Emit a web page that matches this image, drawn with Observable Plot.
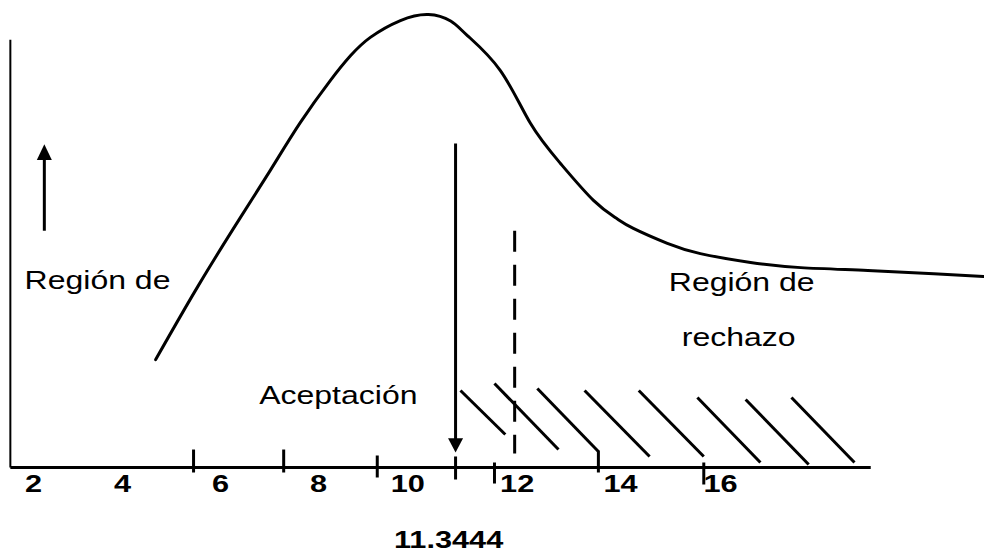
<!DOCTYPE html>
<html>
<head>
<meta charset="utf-8">
<script src="https://cdn.jsdelivr.net/npm/d3@7"></script>
<script src="https://cdn.jsdelivr.net/npm/@observablehq/plot@0.6"></script>
<style>
  html, body { margin: 0; padding: 0; background: #ffffff; }
  #chart svg { display: block; overflow: visible; }
</style>
</head>
<body>
<div id="chart"></div>
<script>
// ---- Data (in chart units: x = statistic value, y = relative density 0..100) ----
const curveX = [4.65, 5.52, 6.37, 7.00, 7.59, 8.20, 8.61, 9.01, 9.62, 10.19, 10.64, 10.98, 11.65, 12.26, 12.87, 13.54, 14.00, 14.35, 15.04, 15.71, 16.73, 17.75, 19.11, 20.45, 21.46];
const curveY = [23.1, 39.0, 53.5, 64.0, 73.9, 82.9, 88.2, 92.1, 95.7, 97.0, 95.6, 92.5, 85.0, 73.7, 65.1, 57.2, 53.4, 51.2, 48.0, 45.8, 43.9, 42.8, 42.2, 41.5, 40.9];

const tickX  = [5.42, 7.25, 9.15, 10.74, 11.53, 13.64, 15.78];
const tickY1 = [3.85, 3.85, 2.57, 2.36, 1.07, 3.64, 1.07];
const tickY2 = [-1.07, -1.07, -2.14, -2.57, -3.43, -1.07, -3.64];

const tickLabels  = ["2", "4", "6", "8", "10", "12", "14", "16"];
const tickLabelAt = [2.17, 3.98, 5.97, 7.96, 9.77, 11.99, 14.09, 16.12];
const tickLabelY  = -3.6;

const hatchX1 = [10.84, 11.53, 12.40, 13.36, 14.46, 15.65, 16.63, 17.56];
const hatchY1 = [16.49, 17.99, 16.92, 16.49, 16.49, 14.99, 14.56, 14.99];
const hatchX2 = [11.75, 12.83, 13.64, 14.68, 15.78, 16.93, 17.91, 18.84];
const hatchY2 = [7.07, 3.85, 3.43, 2.36, 2.36, 1.07, 0.64, 1.07];

const axisX = [1.70, 19.17];     // horizontal axis extent
const axisYTop = 91.6;           // vertical axis top
const statValue = "11.3444";
const statX = 10.74;             // arrow position
const statArrow = [69.4, 5.8];   // arrow line top, bottom
const statTip = 3.2;
const statLabel = {x: 10.6, y: -15.6};
const critX = 11.94;             // dashed critical line
const critY = [50.7, 3.0];
const upArrowX = 2.39;
const upArrow = [50.7, 66.0];
const upTip = 69.2;

const texts = [
  {x: 3.47,  y: 40.0, t: "Región de"},
  {x: 16.55, y: 39.6, t: "Región de"},
  {x: 16.49, y: 27.8, t: "rechazo"},
  {x: 8.36,  y: 15.4, t: "Aceptación"}
];

// ---- Build tables ----
const curve = curveX.map((x, i) => ({x, y: curveY[i]}));
const ticks = tickX.map((x, i) => ({x, y1: tickY1[i], y2: tickY2[i]}));
const labels = tickLabels.map((t, i) => ({t, x: tickLabelAt[i], y: tickLabelY}));
const hatch = hatchX1.map((x1, i) => ({x1, y1: hatchY1[i], x2: hatchX2[i], y2: hatchY2[i]}));

// Custom triangle symbols with the tip at the origin
const triUp = {draw(ctx, size) { const k = Math.sqrt(size); ctx.moveTo(0, 0); ctx.lineTo(-k, 2.1 * k); ctx.lineTo(k, 2.1 * k); ctx.closePath(); }};
const triDown = {draw(ctx, size) { const k = Math.sqrt(size); ctx.moveTo(0, 0); ctx.lineTo(-k, -1.9 * k); ctx.lineTo(k, -1.9 * k); ctx.closePath(); }};

const font = "'Liberation Sans', Arial, Helvetica, sans-serif";

const plot = Plot.plot({
  width: 984,
  height: 559,
  marginLeft: 0,
  marginRight: 0,
  marginTop: 0,
  marginBottom: 92,
  x: {domain: [1.5, 21.48], axis: null},
  y: {domain: [0, 100], axis: null},
  style: {fontFamily: font, background: "white"},
  marks: [
    // axes
    Plot.link([axisX], {x1: d => d[0], x2: d => d[1], y1: 0, y2: 0, stroke: "black", strokeWidth: 3}),
    Plot.link([axisYTop], {x1: axisX[0], x2: axisX[0], y1: 0, y2: d => d, stroke: "black", strokeWidth: 2}),
    // ticks
    Plot.link(ticks, {x1: "x", x2: "x", y1: "y1", y2: "y2", stroke: "black", strokeWidth: 3}),
    // curve
    Plot.line(curve, {x: "x", y: "y", curve: "natural", stroke: "black", strokeWidth: 3}),
    // hatching
    Plot.link(hatch, {x1: "x1", y1: "y1", x2: "x2", y2: "y2", stroke: "black", strokeWidth: 3}),
    // dashed critical line
    Plot.link([critY], {x1: critX, x2: critX, y1: d => d[0], y2: d => d[1], stroke: "black", strokeWidth: 3, strokeDasharray: "21,13"}),
    // down arrow
    Plot.link([statArrow], {x1: statX, x2: statX, y1: d => d[0], y2: d => d[1], stroke: "black", strokeWidth: 3}),
    Plot.dot([statTip], {x: statX, y: d => d, symbol: triDown, r: 4.23, fill: "black", stroke: "none"}),
    // up arrow
    Plot.link([upArrow], {x1: upArrowX, x2: upArrowX, y1: d => d[0], y2: d => d[1], stroke: "black", strokeWidth: 3}),
    Plot.dot([upTip], {x: upArrowX, y: d => d, symbol: triUp, r: 4.23, fill: "black", stroke: "none"}),
    // tick labels
    Plot.text(labels, {x: "x", y: "y", text: "t", fontSize: 24, fontWeight: "bold", fill: "black", className: "stretch"}),
    Plot.text([statValue], {x: statLabel.x, y: statLabel.y, text: d => d, fontSize: 24, fontWeight: "bold", fill: "black", className: "stretch"}),
    // annotations
    Plot.text(texts, {x: "x", y: "y", text: "t", fontSize: 25, fill: "black", className: "stretch"})
  ]
});

document.getElementById("chart").appendChild(plot);

// widen the glyphs horizontally (around each text's centre) to match the reference's wide lettering
const stretch = 1.28;
d3.select(plot).selectAll(".stretch text").each(function () {
  const b = this.getBBox();
  const cx = b.x + b.width / 2;
  const prev = this.getAttribute("transform") || "";
  this.setAttribute("transform", `${prev} translate(${cx},0) scale(${stretch},1) translate(${-cx},0)`);
});
</script>
</body>
</html>
